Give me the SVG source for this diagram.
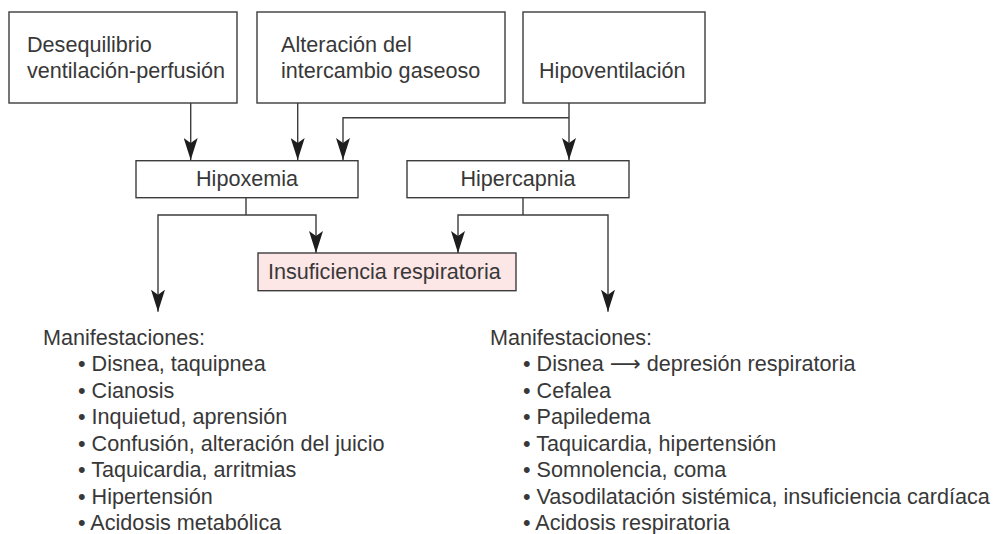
<svg xmlns="http://www.w3.org/2000/svg" width="995" height="534" viewBox="0 0 995 534">
<style>
.box{fill:#ffffff;stroke:#3c3c3c;stroke-width:1.4}
.pink{fill:#fde6e6;stroke:#3c3c3c;stroke-width:1.4}
text{font-family:"Liberation Sans",Arial,sans-serif;font-size:21.6px;fill:#383838}
.c{text-anchor:middle}
.ln{fill:none;stroke:#3c3c3c;stroke-width:1.4}
.arr{marker-end:url(#ah)}
</style>
<defs>
<marker id="ah" viewBox="0 0 22 14" refX="22" refY="7" markerWidth="22" markerHeight="14" markerUnits="userSpaceOnUse" orient="auto">
<path d="M0,0 L22,7 L0,14 L5,7 Z" fill="#1e1e1e"/>
</marker>
</defs>
<rect width="995" height="534" fill="#ffffff"/>
<g id="connectors">
<path class="ln arr" d="M190.7 103 V160"/>
<path class="ln arr" d="M297.7 103 V160"/>
<path class="ln arr" d="M569 103 V160"/>
<path class="ln arr" d="M569 117.7 H343 V160"/>
<path class="ln" d="M246 197.7 V215"/>
<path class="ln arr" d="M246 215 H158 V311.7"/>
<path class="ln arr" d="M246 215 H316 V253"/>
<path class="ln" d="M523 197.7 V215"/>
<path class="ln arr" d="M523 215 H458 V253"/>
<path class="ln arr" d="M523 215 H608 V311.7"/>
</g>
<g id="n_desequilibrio">
<rect class="box" x="9" y="12" width="228" height="91"/>
<text x="27" y="52">Desequilibrio</text>
<text x="27" y="78">ventilación-perfusión</text>
</g>
<g id="n_alteracion">
<rect class="box" x="257" y="12" width="248" height="91"/>
<text x="281" y="52">Alteración del</text>
<text x="281" y="78">intercambio gaseoso</text>
</g>
<g id="n_hipoventilacion">
<rect class="box" x="523" y="12" width="182" height="91"/>
<text x="539" y="78">Hipoventilación</text>
</g>
<g id="n_hipoxemia">
<rect class="box" x="136" y="160.7" width="222" height="37"/>
<text class="c" x="247" y="186">Hipoxemia</text>
</g>
<g id="n_hipercapnia">
<rect class="box" x="407" y="160.7" width="222" height="37"/>
<text class="c" x="518" y="186">Hipercapnia</text>
</g>
<g id="n_insuficiencia">
<rect class="pink" x="258" y="253" width="258" height="37.7"/>
<text x="268" y="278.5">Insuficiencia respiratoria</text>
</g>
<g id="n_manif_hipoxemia">
<text x="43" y="345">Manifestaciones:</text>
<text x="78" y="371.4">• Disnea, taquipnea</text>
<text x="78" y="397.8">• Cianosis</text>
<text x="78" y="424.3">• Inquietud, aprensión</text>
<text x="78" y="450.7">• Confusión, alteración del juicio</text>
<text x="78" y="477.1">• Taquicardia, arritmias</text>
<text x="78" y="503.6">• Hipertensión</text>
<text x="78" y="530">• Acidosis metabólica</text>
</g>
<g id="n_manif_hipercapnia">
<text x="490" y="345">Manifestaciones:</text>
<text x="523" y="371.4">• Disnea <tspan style="font-family:'DejaVu Sans',sans-serif">⟶</tspan> depresión respiratoria</text>
<text x="523" y="397.8">• Cefalea</text>
<text x="523" y="424.3">• Papiledema</text>
<text x="523" y="450.7">• Taquicardia, hipertensión</text>
<text x="523" y="477.1">• Somnolencia, coma</text>
<text x="523" y="503.6">• Vasodilatación sistémica, insuficiencia cardíaca</text>
<text x="523" y="530">• Acidosis respiratoria</text>
</g>
</svg>
